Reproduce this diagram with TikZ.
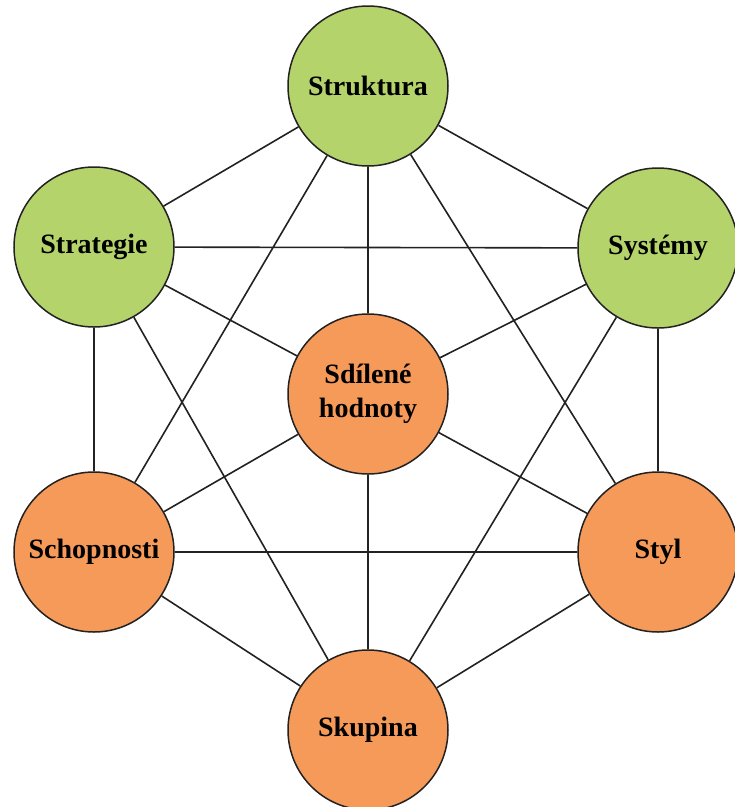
\documentclass[tikz,border=0pt]{standalone}
\usepackage{fontspec}
\setmainfont{Liberation Serif}
\definecolor{leafgreen}{HTML}{B5D36B}
\definecolor{softorange}{HTML}{F69A5A}
\definecolor{rimgray}{HTML}{222222}
\begin{document}
\begin{tikzpicture}[x=1pt,y=-1pt,
  disc/.style={circle, draw=rimgray, line width=1.5pt, minimum size=160pt,
    inner sep=0pt, font=\bfseries\fontsize{28}{34}\selectfont, align=center},
  greendisc/.style={disc, fill=leafgreen},
  orangedisc/.style={disc, fill=softorange},
  link/.style={draw=rimgray, line width=1.6pt}]
\useasboundingbox (0,0) rectangle (735,807);
% the seven elements
\node[greendisc]  (struktura)  at (368,86)  {Struktura};
\node[greendisc]  (strategie)  at (94,247)  {Strategie};
\node[greendisc]  (systemy)    at (658,248) {Systémy};
\node[orangedisc] (hodnoty)    at (368,394) {Sdílené\\hodnoty};
\node[orangedisc] (schopnosti) at (94,552)  {Schopnosti};
\node[orangedisc] (styl)       at (658,552) {Styl};
\node[orangedisc] (skupina)    at (368,730) {Skupina};
% connections between the elements
\path[link]
  (struktura) -- (strategie)
  (struktura) -- (systemy)
  (struktura) -- (hodnoty)
  (struktura) -- (schopnosti)
  (struktura) -- (styl)
  (strategie) -- (systemy)
  (strategie) -- (hodnoty)
  (strategie) -- (schopnosti)
  (strategie) -- (skupina)
  (systemy) -- (hodnoty)
  (systemy) -- (styl)
  (systemy) -- (skupina)
  (hodnoty) -- (schopnosti)
  (hodnoty) -- (styl)
  (hodnoty) -- (skupina)
  (schopnosti) -- (styl)
  (schopnosti) -- (skupina)
  (styl) -- (skupina);
\end{tikzpicture}
\end{document}
